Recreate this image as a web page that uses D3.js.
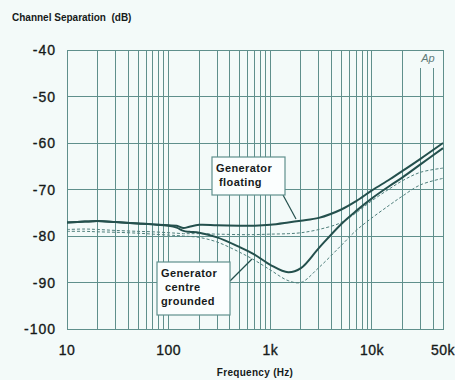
<!DOCTYPE html>
<html>
<head>
<meta charset="utf-8">
<script src="https://cdn.jsdelivr.net/npm/d3@7/dist/d3.min.js"></script>
<style>
  html, body { margin: 0; padding: 0; background: #f3faf9; }
  svg { display: block; }
</style>
</head>
<body>
<script>
// ---- data ----
const freqs = [10, 15, 20, 30, 50, 70, 100, 120, 140, 160, 200, 300, 500, 700, 1000, 1500, 2000, 3000, 5000, 7000, 10000, 15000, 20000, 30000, 50000];
const floating = [-77.1, -76.9, -76.8, -77.0, -77.3, -77.5, -77.7, -77.8, -78.3, -78.0, -77.6, -77.7, -77.8, -77.8, -77.6, -77.1, -76.7, -76.1, -74.3, -72.5, -70.2, -67.8, -66.0, -63.4, -60.0];
const grounded = [-77.1, -76.9, -76.8, -77.0, -77.3, -77.5, -77.8, -78.2, -78.9, -79.1, -79.3, -80.3, -82.4, -84.0, -86.2, -87.8, -86.9, -82.6, -77.4, -74.6, -71.9, -69.2, -67.4, -64.6, -61.1];
const floatingOther = [-78.6, -78.5, -78.6, -78.8, -79.0, -79.1, -79.3, -79.4, -79.5, -79.5, -79.5, -79.6, -79.7, -79.7, -79.6, -79.5, -79.3, -78.6, -77.1, -75.0, -72.4, -69.8, -68.1, -66.3, -65.4];
const groundedOther = [-79.0, -79.0, -79.1, -79.2, -79.4, -79.6, -79.8, -79.9, -80.0, -80.1, -80.3, -81.3, -83.5, -85.2, -87.3, -89.6, -90.0, -86.8, -82.0, -78.8, -76.1, -73.3, -71.4, -69.0, -67.6];
const xTickValues = [10, 100, 1000, 10000, 50000];
const xTickLabels = ["10", "100", "1k", "10k", "50k"];
const yTickValues = [-40, -50, -60, -70, -80, -90, -100];
const yTickLabels = ["-40", "-50", "-60", "-70", "-80", "-90", "-100"];
const titleText = "Channel Separation  (dB)";
const xTitleText = "Frequency (Hz)";
const boxFloating = ["Generator", "floating"];
const boxGrounded = ["Generator", "centre", "grounded"];

// ---- layout ----
const W = 455, H = 380;
const mLeft = 67, mRight = 443, mTop = 50, mBottom = 329;
const gridColor = "#5f8f8c";
const curveColor = "#24504d";
const textColor = "#161a1a";

const svg = d3.select("body").append("svg").attr("width", W).attr("height", H);
svg.append("rect").attr("width", W).attr("height", H).attr("fill", "#f3faf9");

const x = d3.scaleLog().domain([10, 50000]).range([mLeft, mRight]);
const y = d3.scaleLinear().domain([-100, -40]).range([mBottom, mTop]);

// grid
const grid = svg.append("g");
const vTicks = x.ticks();
grid.selectAll("line.v").data(vTicks).enter().append("line")
  .attr("x1", d => x(d)).attr("x2", d => x(d))
  .attr("y1", d => (d === 30000 || d === 40000) ? 68 : mTop)
  .attr("y2", mBottom)
  .attr("stroke", gridColor).attr("stroke-width", 1).attr("shape-rendering", "crispEdges");
grid.selectAll("line.h").data(yTickValues).enter().append("line")
  .attr("x1", mLeft).attr("x2", mRight)
  .attr("y1", d => y(d)).attr("y2", d => y(d))
  .attr("stroke", gridColor).attr("stroke-width", 1).attr("shape-rendering", "crispEdges");
grid.append("rect").attr("x", mLeft).attr("y", mTop).attr("width", mRight - mLeft).attr("height", mBottom - mTop)
  .attr("fill", "none").attr("stroke", gridColor).attr("stroke-width", 1).attr("shape-rendering", "crispEdges");

const font = "Liberation Sans, Arial, Helvetica, sans-serif";

// Ap label
svg.append("text").attr("x", 428).attr("y", 62).attr("text-anchor", "middle")
  .attr("font-family", font).attr("font-style", "italic")
  .attr("font-size", 11).attr("fill", "#5f7a78").text("Ap");

// curves
const line = d3.line().x(d => x(d[0])).y(d => y(d[1])).curve(d3.curveCatmullRom.alpha(0.5));
function drawSeries(vals, dashed) {
  svg.append("path").datum(freqs.map((f, i) => [f, vals[i]]))
    .attr("d", line).attr("fill", "none")
    .attr("stroke", dashed ? "#4f7f7c" : curveColor)
    .attr("stroke-width", dashed ? 1 : 2)
    .attr("stroke-dasharray", dashed ? "3,2" : null);
}
drawSeries(floatingOther, true);
drawSeries(groundedOther, true);
drawSeries(floating, false);
drawSeries(grounded, false);

// axis labels
svg.append("g").selectAll("text").data(yTickValues).enter().append("text")
  .attr("x", 56).attr("y", d => y(d) + 5).attr("text-anchor", "end")
  .attr("font-family", font).attr("font-size", 14).attr("letter-spacing", 1)
  .attr("fill", textColor).attr("stroke", textColor).attr("stroke-width", 0.35)
  .text((d, i) => yTickLabels[i]);
svg.append("g").selectAll("text").data(xTickValues).enter().append("text")
  .attr("x", d => x(d)).attr("y", 355).attr("text-anchor", "middle")
  .attr("font-family", font).attr("font-size", 14).attr("letter-spacing", 0.5)
  .attr("fill", textColor).attr("stroke", textColor).attr("stroke-width", 0.35)
  .text((d, i) => xTickLabels[i]);

svg.append("text").attr("x", 12).attr("y", 21)
  .attr("font-family", font).attr("font-weight", "bold").attr("font-size", 10)
  .attr("fill", textColor).style("white-space", "pre").text(titleText);
svg.append("text").attr("x", 255).attr("y", 376).attr("text-anchor", "middle")
  .attr("font-family", font).attr("font-weight", "bold").attr("font-size", 10)
  .attr("letter-spacing", 0.3)
  .attr("fill", textColor).text(xTitleText);

// annotation boxes
function box(x0, y0, w, h, lines, tx, lh, leader) {
  svg.append("line").attr("x1", leader[0]).attr("y1", leader[1]).attr("x2", leader[2]).attr("y2", leader[3])
    .attr("stroke", curveColor).attr("stroke-width", 1.2);
  svg.append("rect").attr("x", x0).attr("y", y0).attr("width", w).attr("height", h)
    .attr("fill", "#fbfefe").attr("stroke", "#5f8f8c").attr("stroke-width", 1.2);
  lines.forEach((t, i) => {
    svg.append("text").attr("x", tx[i]).attr("y", y0 + 15 + i * lh)
      .attr("font-family", font).attr("font-weight", "bold").attr("font-size", 11)
      .attr("letter-spacing", 0.4).attr("fill", textColor).text(t);
  });
}
box(212, 157, 73, 38, boxFloating, [216, 219], 14, [283, 195, 296, 219]);
box(157, 262, 73, 53, boxGrounded, [161, 165, 161], 14, [230, 281, 252, 259]);
</script>
</body>
</html>
